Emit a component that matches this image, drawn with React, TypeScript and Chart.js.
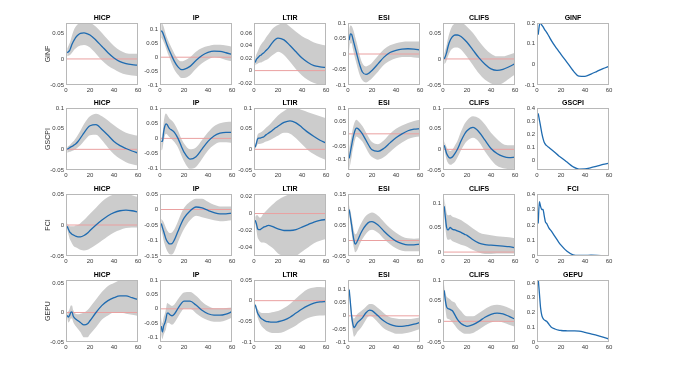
import { useEffect, useRef } from "react";
import { Chart, registerables } from "chart.js";
Chart.register(...registerables);

// horizons (months)
const H = [1, 2, 3, 4, 5, 6, 7, 8, 10, 12, 15, 18, 20, 25, 30, 35, 40, 45, 50, 55, 60];
const X_TICKS = [0, 20, 40, 60];
const ZERO_X = [0, 60];
const ZERO_Y = [0, 0];

const SHOCKS = ["GINF", "GSCPI", "FCI", "GEPU"];
const RESPONSES = ["HICP", "IP", "LTIR", "ESI", "CLIFS"];

// ---- GINF shock ----
const GINF_HICP_M = [0.012, 0.014, 0.016, 0.022, 0.028, 0.033, 0.037, 0.041, 0.046, 0.049, 0.05, 0.048, 0.046, 0.036, 0.024, 0.012, 0.002, -0.005, -0.009, -0.011, -0.012];
const GINF_HICP_HI = [0.02, 0.025, 0.03, 0.037, 0.045, 0.052, 0.058, 0.062, 0.067, 0.07, 0.072, 0.072, 0.07, 0.062, 0.05, 0.037, 0.025, 0.016, 0.011, 0.01, 0.01];
const GINF_HICP_LO = [0.005, 0.006, 0.007, 0.009, 0.012, 0.015, 0.018, 0.02, 0.024, 0.026, 0.027, 0.025, 0.022, 0.01, -0.003, -0.013, -0.02, -0.026, -0.03, -0.032, -0.033];

const GINF_IP_M = [0.096, 0.09, 0.08, 0.068, 0.055, 0.043, 0.032, 0.022, 0.003, -0.015, -0.035, -0.045, -0.044, -0.033, -0.012, 0.006, 0.017, 0.022, 0.021, 0.016, 0.01];
const GINF_IP_HI = [0.125, 0.12, 0.11, 0.095, 0.08, 0.068, 0.058, 0.048, 0.03, 0.012, -0.008, -0.015, -0.013, 0.0, 0.02, 0.033, 0.04, 0.045, 0.045, 0.042, 0.038];
const GINF_IP_LO = [0.07, 0.065, 0.055, 0.045, 0.032, 0.02, 0.008, -0.003, -0.025, -0.045, -0.063, -0.075, -0.075, -0.065, -0.042, -0.022, -0.008, 0.0, -0.003, -0.01, -0.015];

const GINF_LTIR_M = [0.013, 0.018, 0.02, 0.022, 0.024, 0.025, 0.027, 0.028, 0.032, 0.036, 0.044, 0.05, 0.052, 0.049, 0.04, 0.03, 0.02, 0.013, 0.008, 0.006, 0.005];
const GINF_LTIR_HI = [0.02, 0.026, 0.03, 0.035, 0.039, 0.042, 0.045, 0.047, 0.053, 0.058, 0.066, 0.071, 0.073, 0.076, 0.07, 0.062, 0.055, 0.05, 0.045, 0.042, 0.04];
const GINF_LTIR_LO = [0.008, 0.01, 0.011, 0.012, 0.013, 0.013, 0.014, 0.015, 0.017, 0.019, 0.024, 0.028, 0.03, 0.025, 0.014, 0.002, -0.008, -0.015, -0.02, -0.023, -0.025];

const GINF_ESI_M = [0.045, 0.065, 0.063, 0.05, 0.035, 0.02, 0.005, -0.01, -0.038, -0.058, -0.066, -0.06, -0.053, -0.032, -0.01, 0.005, 0.012, 0.016, 0.017, 0.016, 0.013];
const GINF_ESI_HI = [0.08, 0.092, 0.09, 0.082, 0.07, 0.055, 0.04, 0.025, -0.008, -0.03, -0.04, -0.035, -0.028, -0.006, 0.015, 0.028, 0.035, 0.039, 0.04, 0.04, 0.04];
const GINF_ESI_LO = [0.01, 0.035, 0.035, 0.018, 0.0, -0.015, -0.03, -0.045, -0.07, -0.085, -0.092, -0.085, -0.078, -0.057, -0.035, -0.022, -0.014, -0.01, -0.01, -0.011, -0.013];

const GINF_CLIFS_M = [0.0, 0.005, 0.012, 0.022, 0.03, 0.036, 0.04, 0.043, 0.046, 0.046, 0.043, 0.037, 0.032, 0.017, 0.002, -0.01, -0.019, -0.022, -0.02, -0.015, -0.009];
const GINF_CLIFS_HI = [0.01, 0.018, 0.027, 0.038, 0.047, 0.054, 0.06, 0.064, 0.068, 0.07, 0.07, 0.066, 0.062, 0.05, 0.034, 0.02, 0.01, 0.005, 0.005, 0.008, 0.012];
const GINF_CLIFS_LO = [-0.01, -0.008, -0.003, 0.004, 0.01, 0.015, 0.018, 0.02, 0.022, 0.022, 0.018, 0.01, 0.004, -0.012, -0.028, -0.04, -0.047, -0.05, -0.046, -0.038, -0.03];

const GINF_GINF_M = [0.143, 0.19, 0.2, 0.19, 0.182, 0.172, 0.163, 0.155, 0.135, 0.115, 0.088, 0.064, 0.048, 0.01, -0.03, -0.057, -0.058, -0.047, -0.034, -0.021, -0.01];

// ---- GSCPI shock ----
const GSCPI_HICP_M = [0.0, 0.002, 0.004, 0.006, 0.007, 0.009, 0.011, 0.013, 0.019, 0.027, 0.04, 0.052, 0.057, 0.06, 0.048, 0.034, 0.019, 0.009, 0.002, -0.004, -0.009];
const GSCPI_HICP_HI = [0.005, 0.008, 0.01, 0.013, 0.016, 0.019, 0.022, 0.026, 0.035, 0.045, 0.061, 0.074, 0.08, 0.086, 0.08, 0.07, 0.058, 0.048, 0.04, 0.036, 0.033];
const GSCPI_HICP_LO = [-0.008, -0.007, -0.006, -0.005, -0.004, -0.003, -0.001, 0.0, 0.005, 0.01, 0.02, 0.03, 0.034, 0.035, 0.022, 0.004, -0.012, -0.023, -0.031, -0.036, -0.039];

const GSCPI_IP_M = [-0.01, -0.01, 0.02, 0.04, 0.048, 0.045, 0.038, 0.032, 0.027, 0.02, 0.0, -0.028, -0.045, -0.068, -0.06, -0.035, -0.01, 0.008, 0.017, 0.02, 0.02];
const GSCPI_IP_HI = [0.0, 0.01, 0.05, 0.075, 0.082, 0.078, 0.07, 0.065, 0.058, 0.048, 0.025, -0.003, -0.017, -0.036, -0.03, -0.005, 0.02, 0.04, 0.05, 0.054, 0.055];
const GSCPI_IP_LO = [-0.04, -0.035, -0.01, 0.008, 0.015, 0.013, 0.008, 0.004, -0.004, -0.012, -0.03, -0.058, -0.075, -0.1, -0.094, -0.068, -0.04, -0.022, -0.013, -0.013, -0.015];

const GSCPI_LTIR_M = [0.005, 0.015, 0.025, 0.027, 0.027, 0.028, 0.029, 0.03, 0.035, 0.039, 0.045, 0.052, 0.056, 0.065, 0.069, 0.064, 0.053, 0.041, 0.031, 0.022, 0.015];
const GSCPI_LTIR_HI = [0.01, 0.022, 0.035, 0.039, 0.04, 0.042, 0.044, 0.046, 0.052, 0.057, 0.066, 0.076, 0.082, 0.093, 0.1, 0.1, 0.095, 0.09, 0.085, 0.08, 0.075];
const GSCPI_LTIR_LO = [0.0, 0.007, 0.012, 0.013, 0.013, 0.014, 0.015, 0.016, 0.019, 0.021, 0.025, 0.03, 0.033, 0.04, 0.038, 0.027, 0.012, -0.002, -0.012, -0.02, -0.026];

const GSCPI_ESI_M = [-0.095, -0.07, -0.045, -0.02, 0.0, 0.015, 0.022, 0.021, 0.012, 0.0, -0.025, -0.05, -0.062, -0.068, -0.056, -0.035, -0.015, 0.0, 0.012, 0.018, 0.02];
const GSCPI_ESI_HI = [-0.06, -0.03, -0.005, 0.02, 0.038, 0.05, 0.055, 0.052, 0.042, 0.03, 0.005, -0.02, -0.032, -0.04, -0.025, 0.0, 0.02, 0.032, 0.042, 0.05, 0.055];
const GSCPI_ESI_LO = [-0.14, -0.115, -0.09, -0.06, -0.04, -0.02, -0.01, -0.012, -0.02, -0.03, -0.055, -0.08, -0.09, -0.1, -0.09, -0.07, -0.05, -0.034, -0.02, -0.013, -0.01];

const GSCPI_CLIFS_M = [0.01, 0.0, -0.01, -0.016, -0.02, -0.021, -0.02, -0.018, -0.01, 0.0, 0.02, 0.037, 0.045, 0.053, 0.042, 0.022, 0.002, -0.01, -0.017, -0.02, -0.019];
const GSCPI_CLIFS_HI = [0.02, 0.012, 0.005, 0.0, -0.003, -0.004, -0.003, 0.0, 0.01, 0.02, 0.043, 0.062, 0.07, 0.08, 0.075, 0.06, 0.04, 0.025, 0.013, 0.01, 0.01];
const GSCPI_CLIFS_LO = [0.0, -0.013, -0.025, -0.032, -0.036, -0.037, -0.037, -0.035, -0.03, -0.02, -0.002, 0.013, 0.02, 0.028, 0.018, -0.005, -0.025, -0.04, -0.046, -0.048, -0.047];

const GSCPI_GSCPI_M = [0.36, 0.31, 0.26, 0.21, 0.17, 0.14, 0.125, 0.115, 0.1, 0.085, 0.062, 0.038, 0.025, -0.01, -0.045, -0.063, -0.062, -0.052, -0.04, -0.028, -0.018];

// ---- FCI shock ----
const FCI_HICP_M = [-0.002, -0.007, -0.011, -0.013, -0.015, -0.016, -0.017, -0.018, -0.019, -0.019, -0.017, -0.013, -0.009, 0.0, 0.008, 0.015, 0.02, 0.023, 0.024, 0.023, 0.021];
const FCI_HICP_HI = [0.003, 0.0, -0.002, -0.002, -0.002, -0.002, -0.002, -0.001, 0.0, 0.003, 0.008, 0.014, 0.018, 0.028, 0.038, 0.045, 0.049, 0.05, 0.05, 0.048, 0.045];
const FCI_HICP_LO = [-0.007, -0.015, -0.022, -0.026, -0.03, -0.033, -0.035, -0.036, -0.038, -0.04, -0.041, -0.04, -0.038, -0.032, -0.025, -0.018, -0.012, -0.008, -0.005, -0.004, -0.004];

const FCI_IP_M = [-0.045, -0.058, -0.07, -0.083, -0.095, -0.103, -0.108, -0.111, -0.11, -0.098, -0.07, -0.043, -0.028, -0.005, 0.008, 0.005, -0.003, -0.01, -0.014, -0.014, -0.012];
const FCI_IP_HI = [-0.03, -0.035, -0.04, -0.05, -0.06, -0.068, -0.073, -0.076, -0.074, -0.064, -0.038, -0.01, 0.005, 0.025, 0.035, 0.035, 0.025, 0.015, 0.01, 0.01, 0.01];
const FCI_IP_LO = [-0.065, -0.08, -0.1, -0.113, -0.125, -0.134, -0.14, -0.144, -0.145, -0.135, -0.105, -0.078, -0.063, -0.035, -0.02, -0.025, -0.03, -0.035, -0.038, -0.037, -0.035];

const FCI_LTIR_M = [-0.008, -0.012, -0.018, -0.019, -0.019, -0.018, -0.017, -0.016, -0.015, -0.014, -0.015, -0.017, -0.018, -0.02, -0.02, -0.019, -0.016, -0.013, -0.01, -0.008, -0.007];
const FCI_LTIR_HI = [-0.004, -0.002, -0.002, -0.004, -0.005, -0.004, -0.002, 0.0, 0.003, 0.006, 0.01, 0.014, 0.016, 0.02, 0.023, 0.025, 0.025, 0.025, 0.025, 0.025, 0.025];
const FCI_LTIR_LO = [-0.012, -0.02, -0.028, -0.031, -0.033, -0.034, -0.034, -0.034, -0.035, -0.037, -0.04, -0.044, -0.047, -0.05, -0.052, -0.05, -0.045, -0.04, -0.035, -0.032, -0.03];

const FCI_ESI_M = [0.1, 0.075, 0.05, 0.022, 0.0, -0.012, -0.008, 0.0, 0.018, 0.033, 0.05, 0.06, 0.061, 0.05, 0.03, 0.012, -0.002, -0.01, -0.014, -0.014, -0.012];
const FCI_ESI_HI = [0.115, 0.095, 0.075, 0.05, 0.03, 0.02, 0.022, 0.03, 0.048, 0.063, 0.08, 0.088, 0.09, 0.08, 0.06, 0.04, 0.025, 0.013, 0.007, 0.006, 0.007];
const FCI_ESI_LO = [0.085, 0.055, 0.025, -0.005, -0.025, -0.038, -0.035, -0.028, -0.01, 0.005, 0.022, 0.033, 0.035, 0.025, 0.005, -0.012, -0.025, -0.033, -0.035, -0.035, -0.035];

const FCI_CLIFS_M = [0.093, 0.07, 0.05, 0.045, 0.047, 0.05, 0.048, 0.046, 0.045, 0.043, 0.04, 0.036, 0.034, 0.025, 0.018, 0.015, 0.014, 0.013, 0.012, 0.011, 0.009];
const FCI_CLIFS_HI = [0.11, 0.095, 0.08, 0.075, 0.075, 0.076, 0.074, 0.072, 0.07, 0.068, 0.065, 0.06, 0.057, 0.048, 0.04, 0.036, 0.034, 0.032, 0.031, 0.03, 0.028];
const FCI_CLIFS_LO = [0.075, 0.048, 0.03, 0.025, 0.025, 0.026, 0.024, 0.022, 0.02, 0.018, 0.015, 0.013, 0.011, 0.004, -0.001, -0.004, -0.004, -0.003, -0.003, -0.003, -0.003];

const FCI_FCI_M = [0.21, 0.35, 0.32, 0.3, 0.3, 0.26, 0.22, 0.21, 0.18, 0.16, 0.125, 0.09, 0.07, 0.03, 0.008, 0.004, 0.004, 0.005, 0.004, 0.002, 0.0];

// ---- GEPU shock ----
const GEPU_HICP_M = [-0.005, -0.008, -0.005, 0.0, 0.001, -0.006, -0.009, -0.011, -0.014, -0.017, -0.021, -0.019, -0.014, 0.0, 0.012, 0.02, 0.025, 0.028, 0.028, 0.025, 0.022];
const GEPU_HICP_HI = [0.0, 0.002, 0.006, 0.012, 0.012, 0.004, 0.0, -0.002, -0.003, -0.002, 0.0, 0.004, 0.009, 0.022, 0.035, 0.045, 0.05, 0.055, 0.058, 0.058, 0.058];
const GEPU_HICP_LO = [-0.01, -0.017, -0.015, -0.01, -0.01, -0.016, -0.02, -0.023, -0.028, -0.033, -0.042, -0.042, -0.037, -0.025, -0.012, -0.005, 0.0, 0.0, -0.002, -0.004, -0.006];

const GEPU_IP_M = [-0.06, -0.08, -0.06, -0.05, -0.035, -0.015, -0.015, -0.02, -0.024, -0.018, 0.002, 0.02, 0.027, 0.027, 0.013, -0.005, -0.017, -0.022, -0.022, -0.018, -0.01];
const GEPU_IP_HI = [-0.03, -0.05, -0.03, -0.018, 0.0, 0.02, 0.018, 0.015, 0.01, 0.015, 0.033, 0.05, 0.057, 0.058, 0.045, 0.025, 0.01, 0.002, 0.002, 0.003, 0.005];
const GEPU_IP_LO = [-0.09, -0.105, -0.09, -0.08, -0.07, -0.05, -0.048, -0.05, -0.055, -0.048, -0.028, -0.008, 0.0, 0.0, -0.015, -0.03, -0.04, -0.045, -0.045, -0.04, -0.03];

const GEPU_LTIR_M = [-0.01, -0.02, -0.03, -0.035, -0.04, -0.043, -0.045, -0.047, -0.05, -0.051, -0.052, -0.052, -0.051, -0.047, -0.04, -0.03, -0.02, -0.012, -0.006, -0.003, -0.002];
const GEPU_LTIR_HI = [-0.006, -0.013, -0.02, -0.024, -0.028, -0.029, -0.03, -0.03, -0.03, -0.03, -0.028, -0.026, -0.025, -0.018, -0.008, 0.005, 0.018, 0.028, 0.032, 0.033, 0.032];
const GEPU_LTIR_LO = [-0.014, -0.027, -0.04, -0.048, -0.055, -0.06, -0.064, -0.067, -0.072, -0.075, -0.078, -0.078, -0.078, -0.075, -0.068, -0.06, -0.05, -0.042, -0.038, -0.036, -0.035];

const GEPU_ESI_M = [0.1, 0.05, 0.0, -0.03, -0.045, -0.04, -0.032, -0.025, -0.017, -0.008, 0.012, 0.022, 0.02, 0.0, -0.02, -0.033, -0.039, -0.04, -0.037, -0.032, -0.025];
const GEPU_ESI_HI = [0.11, 0.065, 0.02, -0.005, -0.01, -0.005, 0.002, 0.008, 0.015, 0.022, 0.035, 0.045, 0.045, 0.03, 0.01, -0.005, -0.01, -0.012, -0.012, -0.01, -0.005];
const GEPU_ESI_LO = [0.09, 0.035, -0.025, -0.06, -0.08, -0.075, -0.068, -0.06, -0.05, -0.038, -0.015, 0.0, -0.003, -0.025, -0.048, -0.06, -0.068, -0.068, -0.065, -0.058, -0.05];

const GEPU_CLIFS_M = [0.075, 0.05, 0.035, 0.031, 0.03, 0.029, 0.027, 0.025, 0.015, 0.005, -0.005, -0.01, -0.012, -0.008, 0.0, 0.01, 0.017, 0.02, 0.018, 0.012, 0.005];
const GEPU_CLIFS_HI = [0.09, 0.07, 0.06, 0.057, 0.055, 0.053, 0.05, 0.048, 0.045, 0.035, 0.025, 0.015, 0.012, 0.012, 0.02, 0.03, 0.038, 0.04, 0.038, 0.032, 0.025];
const GEPU_CLIFS_LO = [0.06, 0.03, 0.01, 0.006, 0.005, 0.003, 0.0, -0.003, -0.01, -0.018, -0.025, -0.03, -0.03, -0.028, -0.02, -0.01, -0.003, 0.0, -0.003, -0.008, -0.013];

const GEPU_GEPU_M = [0.43, 0.33, 0.23, 0.18, 0.16, 0.15, 0.145, 0.14, 0.12, 0.1, 0.088, 0.08, 0.078, 0.076, 0.075, 0.073, 0.065, 0.055, 0.045, 0.033, 0.02];

// y-axis ticks
const T_05 = [-0.05, 0, 0.05];
const T_05_10 = [-0.05, 0, 0.05, 0.1];
const T_10_10 = [-0.1, -0.05, 0, 0.05, 0.1];
const T_LTIR1 = [-0.02, 0, 0.02, 0.04, 0.06];
const T_GINF = [-0.1, 0, 0.1, 0.2];
const T_0_4 = [0, 0.1, 0.2, 0.3, 0.4];
const T_15_05 = [-0.15, -0.1, -0.05, 0, 0.05];
const T_LTIR3 = [-0.04, -0.02, 0, 0.02];
const T_05_15 = [-0.05, 0, 0.05, 0.1, 0.15];
const T_0_10 = [0, 0.05, 0.1];
const T_10_05 = [-0.1, -0.05, 0, 0.05];

const PANELS = [
  // row, col, title, mean, lo, hi, ymin, ymax, ticks
  [0, 0, "HICP", GINF_HICP_M, GINF_HICP_LO, GINF_HICP_HI, -0.05, 0.069, T_05],
  [0, 1, "IP", GINF_IP_M, GINF_IP_LO, GINF_IP_HI, -0.1, 0.123, T_10_10],
  [0, 2, "LTIR", GINF_LTIR_M, GINF_LTIR_LO, GINF_LTIR_HI, -0.023, 0.076, T_LTIR1],
  [0, 3, "ESI", GINF_ESI_M, GINF_ESI_LO, GINF_ESI_HI, -0.1, 0.1, T_10_10],
  [0, 4, "CLIFS", GINF_CLIFS_M, GINF_CLIFS_LO, GINF_CLIFS_HI, -0.05, 0.069, T_05],
  [0, 5, "GINF", GINF_GINF_M, null, null, -0.1, 0.2, T_GINF],
  [1, 0, "HICP", GSCPI_HICP_M, GSCPI_HICP_LO, GSCPI_HICP_HI, -0.05, 0.1, T_05_10],
  [1, 1, "IP", GSCPI_IP_M, GSCPI_IP_LO, GSCPI_IP_HI, -0.104, 0.1, T_10_10],
  [1, 2, "LTIR", GSCPI_LTIR_M, GSCPI_LTIR_LO, GSCPI_LTIR_HI, -0.05, 0.1, T_05_10],
  [1, 3, "ESI", GSCPI_ESI_M, GSCPI_ESI_LO, GSCPI_ESI_HI, -0.14, 0.1, T_10_10],
  [1, 4, "CLIFS", GSCPI_CLIFS_M, GSCPI_CLIFS_LO, GSCPI_CLIFS_HI, -0.05, 0.1, T_05_10],
  [1, 5, "GSCPI", GSCPI_GSCPI_M, null, null, -0.07, 0.4, T_0_4],
  [2, 0, "HICP", FCI_HICP_M, FCI_HICP_LO, FCI_HICP_HI, -0.05, 0.05, T_05],
  [2, 1, "IP", FCI_IP_M, FCI_IP_LO, FCI_IP_HI, -0.15, 0.05, T_15_05],
  [2, 2, "LTIR", FCI_LTIR_M, FCI_LTIR_LO, FCI_LTIR_HI, -0.05, 0.023, T_LTIR3],
  [2, 3, "ESI", FCI_ESI_M, FCI_ESI_LO, FCI_ESI_HI, -0.05, 0.15, T_05_15],
  [2, 4, "CLIFS", FCI_CLIFS_M, FCI_CLIFS_LO, FCI_CLIFS_HI, -0.008, 0.118, T_0_10],
  [2, 5, "FCI", FCI_FCI_M, null, null, 0, 0.4, T_0_4],
  [3, 0, "HICP", GEPU_HICP_M, GEPU_HICP_LO, GEPU_HICP_HI, -0.05, 0.055, T_05],
  [3, 1, "IP", GEPU_IP_M, GEPU_IP_LO, GEPU_IP_HI, -0.115, 0.1, T_10_10],
  [3, 2, "LTIR", GEPU_LTIR_M, GEPU_LTIR_LO, GEPU_LTIR_HI, -0.1, 0.05, T_10_05],
  [3, 3, "ESI", GEPU_ESI_M, GEPU_ESI_LO, GEPU_ESI_HI, -0.1, 0.137, T_10_10],
  [3, 4, "CLIFS", GEPU_CLIFS_M, GEPU_CLIFS_LO, GEPU_CLIFS_HI, -0.05, 0.1, T_05_10],
  [3, 5, "GEPU", GEPU_GEPU_M, null, null, 0, 0.42, T_0_4],
];

const COL_LEFT = [66, 160, 254, 348, 443, 537];
const ROW_TOP = [23, 108, 194, 280];
const PW = 72;
const PH = 62;
const AX_W = 34;
const TITLE_H = 14;
const XAX_H = 14;
const PAD_R = 10;

const FONT = "'Liberation Sans', Arial, sans-serif";
const BLUE = "#1f6bb0";
const RED = "#eaa0a0";
const BAND = "#cccccc";
const BOX = "#b8b8b8";
const TICK = "#3a3a3a";

const boxPlugin = {
  id: "box",
  afterDatasetsDraw(chart: any) {
    const { ctx, chartArea: a } = chart;
    ctx.save();
    ctx.strokeStyle = BOX;
    ctx.lineWidth = 1;
    ctx.strokeRect(Math.round(a.left) + 0.5, Math.round(a.top) + 0.5, Math.round(a.right - a.left) - 1, Math.round(a.bottom - a.top) - 1);
    ctx.restore();
  },
};

function Panel({ p }: { p: any[] }) {
  const ref = useRef<HTMLCanvasElement | null>(null);
  const [row, col, title, mean, lo, hi, ymin, ymax, yt] = p as any;
  useEffect(() => {
    const pts = (ys: number[]) => H.map((x, i) => ({ x, y: ys[i] }));
    const datasets: any[] = [
      { data: pts(mean), borderColor: BLUE, borderWidth: 1.3, pointRadius: 0, cubicInterpolationMode: "monotone", fill: false },
    ];
    if (lo) {
      datasets.push({ data: ZERO_X.map((x, i) => ({ x, y: ZERO_Y[i] })), borderColor: RED, borderWidth: 1, pointRadius: 0, fill: false });
      datasets.push({ data: pts(hi), borderWidth: 0, borderColor: "rgba(0,0,0,0)", backgroundColor: BAND, pointRadius: 0, cubicInterpolationMode: "monotone", fill: "+1" });
      datasets.push({ data: pts(lo), borderWidth: 0, borderColor: "rgba(0,0,0,0)", pointRadius: 0, cubicInterpolationMode: "monotone", fill: false });
    }
    const chart = new Chart(ref.current as HTMLCanvasElement, {
      type: "line",
      data: { datasets },
      options: {
        animation: false,
        responsive: false,
        devicePixelRatio: 1,
        layout: { padding: { left: 0, right: PAD_R, top: 0, bottom: 0 } },
        plugins: {
          legend: { display: false },
          tooltip: { enabled: false },
          title: {
            display: true,
            fullSize: false,
            text: title,
            color: "#000",
            font: { size: 7, weight: "bold", family: FONT, lineHeight: 1 },
            padding: { top: 6, bottom: 1 },
          },
        },
        scales: {
          x: {
            type: "linear",
            min: 0,
            max: 60,
            grid: { display: false, drawTicks: false },
            border: { display: false },
            ticks: { font: { size: 6, family: FONT }, color: TICK, padding: 2, autoSkip: false, maxRotation: 0 },
            afterBuildTicks: (s: any) => { s.ticks = X_TICKS.map((v) => ({ value: v })); },
            afterFit: (s: any) => { s.height = XAX_H; },
          },
          y: {
            type: "linear",
            min: ymin,
            max: ymax,
            grid: { display: false, drawTicks: false },
            border: { display: false },
            ticks: { font: { size: 6, family: FONT }, color: TICK, padding: 2, autoSkip: false, callback: (v: any) => String(Math.round(v * 1000) / 1000) },
            afterBuildTicks: (s: any) => { s.ticks = yt.map((v: number) => ({ value: v })); },
            afterFit: (s: any) => { s.width = AX_W; },
            title: col === 0
              ? { display: true, text: SHOCKS[row], color: "#333", font: { size: 7, family: FONT }, padding: { top: 12, bottom: 0 } }
              : { display: false },
          },
        },
      } as any,
      plugins: [boxPlugin],
    });
    return () => chart.destroy();
  }, []);
  const w = PW + AX_W + PAD_R;
  const h = PH + TITLE_H + XAX_H;
  return (
    <canvas
      ref={ref}
      width={w}
      height={h}
      style={{ position: "absolute", left: COL_LEFT[col] - AX_W, top: ROW_TOP[row] - TITLE_H, width: w, height: h }}
    />
  );
}

export default function App() {
  return (
    <div style={{ position: "fixed", left: 0, top: 0, width: 697, height: 375, background: "#fff", overflow: "hidden" }}>
      {PANELS.map((p, i) => (
        <Panel key={i} p={p} />
      ))}
    </div>
  );
}
